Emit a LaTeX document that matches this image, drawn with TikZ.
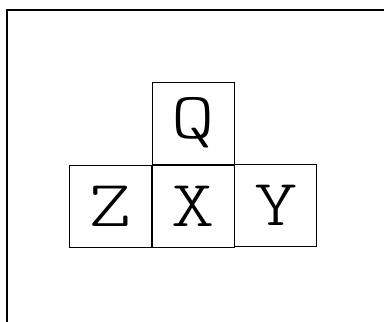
\documentclass[tikz,border=0pt]{standalone}
\usepackage{fontspec}
\newfontfamily\cellfont{Latin Modern Mono Light}[FakeStretch=1.25]
\usetikzlibrary{positioning}

\begin{document}
\begin{tikzpicture}[x=1pt, y=1pt,
  node distance=0pt,
  cell/.style={draw, line width=0.9pt, minimum size=82pt, inner sep=0pt, font=\cellfont\fontsize{66}{66}\selectfont},
  frame/.style={line width=1.1pt}]
  \useasboundingbox (0,0) rectangle (384,322);
  % page frame, only top and left edges show
  \coordinate (ftl) at (7,312);
  \coordinate (ftr) at (384,312);
  \coordinate (fbl) at (7,0);
  \draw[frame] (fbl) -- (ftl) -- (ftr);
  % the four cells
  \node[cell] (x) at (193,116) {X};
  \node[cell, left=of x.west, anchor=east] (z) {Z};
  \node[cell, right=of x.east, anchor=west, yshift=1pt] (y) {Y};
  \node[cell, above=of x.north, anchor=south] (q) {Q};
\end{tikzpicture}
\end{document}
